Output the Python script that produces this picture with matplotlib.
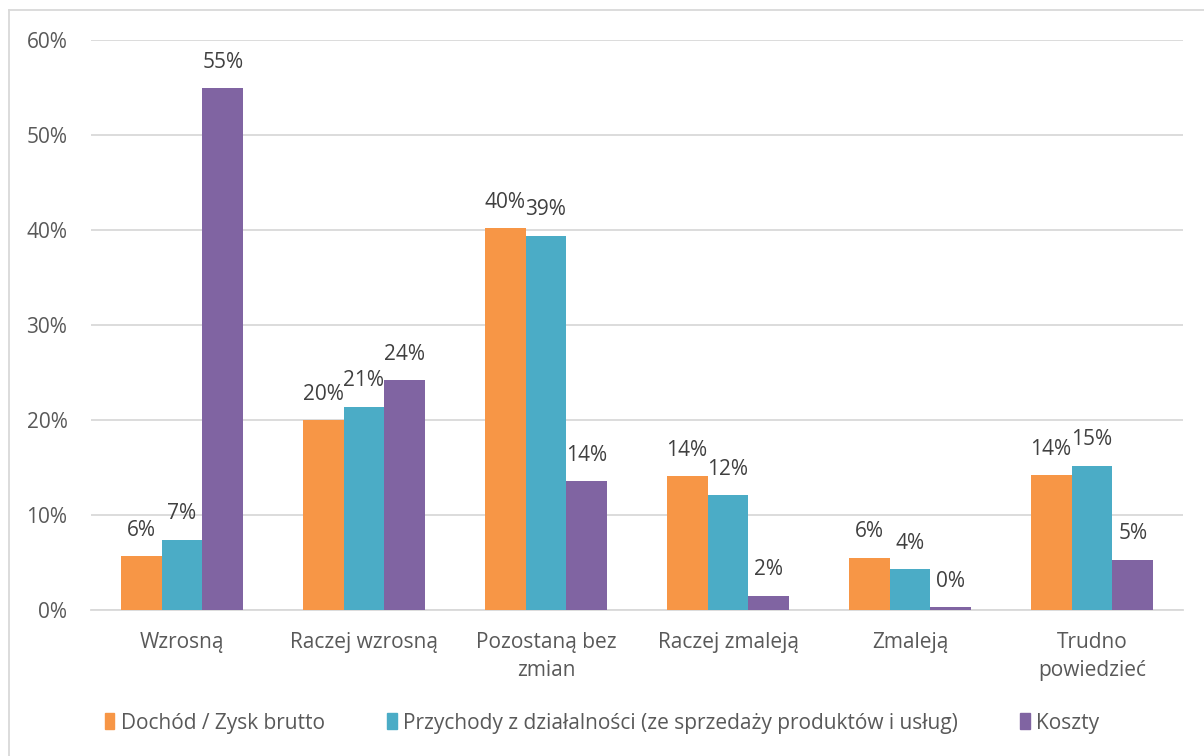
import matplotlib
matplotlib.use("Agg")
import matplotlib.pyplot as plt
from matplotlib.lines import Line2D
import numpy as np

categories = ["Wzrosną", "Raczej wzrosną", "Pozostaną bez\nzmian", "Raczej zmaleją", "Zmaleją", "Trudno\npowiedzieć"]
series_names = ["Dochód / Zysk brutto", "Przychody z działalności (ze sprzedaży produktów i usług)", "Koszty"]
dochod = [5.7, 20.0, 40.2, 14.1, 5.5, 14.2]
przychody = [7.4, 21.4, 39.4, 12.1, 4.3, 15.2]
koszty = [54.9, 24.2, 13.6, 1.5, 0.3, 5.3]
colors = ["#F79646", "#4BACC6", "#8064A2"]
yticks = [0, 10, 20, 30, 40, 50, 60]

plt.rcParams['font.family'] = ['Open Sans', 'DejaVu Sans']
txt = "#595959"
fs = 15

fig = plt.figure(figsize=(12.04, 7.56), dpi=100)
ax = fig.add_axes([91/1204, 1-610/756, 1092/1204, 570/756])

x = np.arange(len(categories))
w = 0.225
for i, (vals, c) in enumerate(zip([dochod, przychody, koszty], colors)):
    pos = x + (i - 1) * w
    bars = ax.bar(pos, vals, w, color=c, label=series_names[i], zorder=3)
    for b, v in zip(bars, vals):
        ax.annotate(f"{v:.0f}%", (b.get_x() + b.get_width()/2, v), xytext=(0, 11),
                    textcoords="offset points", ha="center", va="bottom",
                    fontsize=fs, color="#404040")

ax.set_xlim(-0.5, len(categories) - 0.5)
ax.set_ylim(0, 60)
ax.set_yticks(yticks)
ax.set_yticklabels([f"{t}%" for t in yticks], fontsize=fs, color=txt)
ax.set_xticks(x)
ax.set_xticklabels(categories, fontsize=fs, color=txt, linespacing=1.4)
ax.tick_params(axis='both', length=0)
ax.tick_params(axis='y', pad=17)
ax.tick_params(axis='x', pad=16)
ax.grid(axis='y', color="#D9D9D9", linewidth=1.3, zorder=0)
for s in ["top", "right", "left"]:
    ax.spines[s].set_visible(False)
ax.spines["bottom"].set_color("#D9D9D9")
ax.spines["bottom"].set_linewidth(1.3)

handles = [plt.Rectangle((0, 0), 1, 1, color=c) for c in colors]
leg = fig.legend(handles, series_names, loc="center", bbox_to_anchor=(0.5, 1-723/756),
                 ncol=3, frameon=False, fontsize=fs, handlelength=0.45, handleheight=0.8,
                 handletextpad=0.3, columnspacing=3.0, labelcolor=txt)

# chart border
fig.add_artist(Line2D([9/1204, 9/1204], [0, 1-10/756], color="#D9D9D9", linewidth=1.3))
fig.add_artist(Line2D([9/1204, 1], [1-10/756, 1-10/756], color="#D9D9D9", linewidth=1.3))

fig.savefig("out.png", dpi=100, facecolor="white")
